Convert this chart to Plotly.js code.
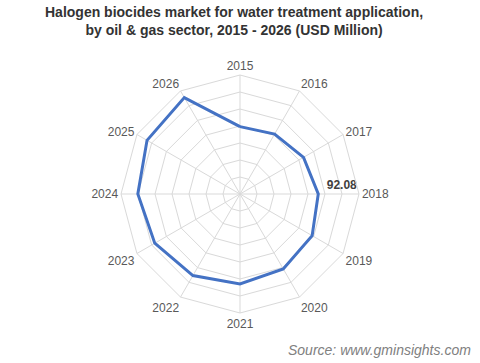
<!DOCTYPE html>
<html>
<head>
<meta charset="utf-8">
<script src="https://cdn.plot.ly/plotly-3.0.1.min.js"></script>
<style>html,body{margin:0;padding:0;background:#fff;}#chart{width:480px;height:363px;}</style>
</head>
<body>
<div id="chart"></div>
<script>
const years = ["2015","2016","2017","2018","2019","2020","2021","2022","2023","2024","2025","2026"];
const values = [79.3, 81.4, 86.3, 92.08, 98.0, 101.8, 105.8, 110.8, 115.8, 120.2, 126.3, 131.0];
const labelYear = "2018";
const labelValue = 92.08;
const radialTicks = [0, 20, 40, 60, 80, 100, 120, 140];

const closedTheta = years.concat([years[0]]);
const closedR = values.concat([values[0]]);

const traces = [
  {
    type: 'scatterpolar',
    r: closedR,
    theta: closedTheta,
    mode: 'lines',
    line: {color: '#4472C4', width: 3},
    hoverinfo: 'skip'
  },
  {
    type: 'scatterpolar',
    r: [labelValue],
    theta: [labelYear],
    mode: 'markers+text',
    marker: {size: 12, color: 'rgba(0,0,0,0)'},
    text: [labelValue.toFixed(2) + '<br> '],
    textposition: 'middle right',
    textfont: {family: 'Liberation Sans, Arial, sans-serif', size: 12, color: '#404040', weight: 'bold'},
    hoverinfo: 'skip'
  }
];

const layout = {
  width: 480,
  height: 363,
  margin: {l: 120.8, r: 120.8, t: 75, b: 49.6, pad: 0},
  paper_bgcolor: '#ffffff',
  showlegend: false,
  polar: {
    domain: {x: [0, 1], y: [0, 1]},
    bgcolor: '#ffffff',
    gridshape: 'linear',
    radialaxis: {
      range: [0, 140],
      tickvals: radialTicks,
      showticklabels: false,
      ticks: '',
      showline: false,
      gridcolor: '#d9d9d9',
      gridwidth: 1
    },
    angularaxis: {
      categoryarray: years,
      type: 'category',
      direction: 'clockwise',
      rotation: 90,
      ticks: '',
      showline: true,
      linecolor: '#d9d9d9',
      linewidth: 1,
      gridcolor: '#d9d9d9',
      gridwidth: 1,
      tickfont: {family: 'Liberation Sans, Arial, sans-serif', size: 12, color: '#595959'}
    }
  },
  annotations: [
    {
      text: 'Halogen biocides market for water treatment application,<br>by oil &amp; gas sector, 2015 - 2026 (USD Million)',
      xref: 'paper', yref: 'paper',
      x: (234 - 120.8) / 238.4, y: (313.4 - 21) / 238.4,
      xanchor: 'center', yanchor: 'middle',
      showarrow: false,
      font: {family: 'Liberation Sans, Arial, sans-serif', size: 14, color: '#333333', weight: 'bold'}
    },
    {
      text: 'Source: www.gminsights.com',
      xref: 'paper', yref: 'paper',
      x: (473 - 120.8) / 238.4, y: (313.4 - 350) / 238.4,
      xanchor: 'right', yanchor: 'middle',
      showarrow: false,
      font: {family: 'Liberation Sans, Arial, sans-serif', size: 14, color: '#808080', style: 'italic'}
    }
  ]
};

Plotly.newPlot('chart', traces, layout, {displayModeBar: false, staticPlot: true});
</script>
</body>
</html>
